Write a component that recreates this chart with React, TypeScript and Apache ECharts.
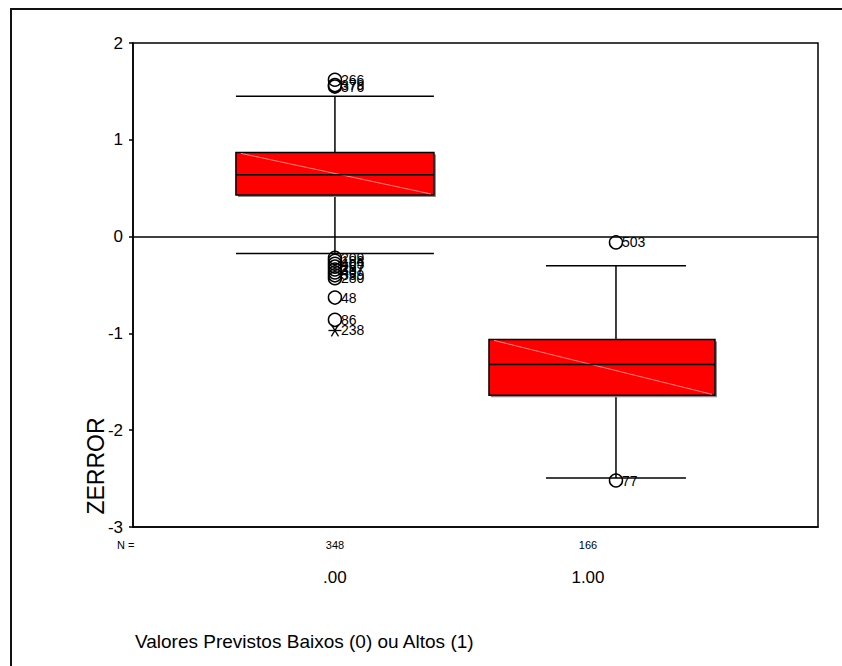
import React, { useEffect, useRef } from "react";
import * as echarts from "echarts";

// ---- data ----
const categories = [".00", "1.00"];
const nCounts = [348, 166];
const whiskerLow = [-0.175, -2.495];
const q1 = [0.43, -1.64];
const medians = [0.64, -1.32];
const q3 = [0.87, -1.062];
const whiskerHigh = [1.45, -0.3];

const outlierGroup = [0, 0, 0, 0, 0, 0, 0, 0, 0, 0, 0, 0, 0, 0, 1, 1];
const outlierValues = [1.62, 1.565, 1.55, -0.22, -0.25, -0.28, -0.31, -0.34, -0.37, -0.4, -0.43, -0.63, -0.86, -0.97, -0.06, -2.52];
const outlierLabels = ["266", "379", "376", "209", "188", "405", "267", "337", "40", "339", "280", "48", "86", "238", "503", "77"];
const extremeLabels = ["238"];

const yTickMin = -3;
const yTickMax = 2;
const yTickStep = 1;

const xTitle = "Valores Previstos Baixos (0) ou Altos (1)";
const yTitle = "ZERROR";
const nPrefix = "N =";

// ---- layout (pixels / axis extent) ----
const X_MIN = -0.798;
const X_MAX = 1.909;
const boxHalf = [99, 113];
const boxShift = [0, 14];
const whiskerShift = [0, 28];
const capHalf = [99, 70];
const FONT = "'Liberation Sans', Arial, sans-serif";

export default function App() {
  const ref = useRef<HTMLDivElement>(null);
  useEffect(() => {
    document.body.style.margin = "0";
    const chart = echarts.init(ref.current!, null, { renderer: "svg" });
    const boxData = categories.map((_, i) => [i, whiskerLow[i], q1[i], medians[i], q3[i], whiskerHigh[i]]);
    const outlierData = outlierValues.map((v, i) => [outlierGroup[i], v]);
    const labelData = categories.map((_, i) => [i, yTickMin]);

    const ln = (x1: number, y1: number, x2: number, y2: number, w = 1.5, c = "#000") => ({
      type: "line",
      shape: { x1, y1, x2, y2 },
      style: { stroke: c, lineWidth: w },
    });

    chart.setOption({
      animation: false,
      grid: { left: 133, right: 24, top: 43, bottom: 139, show: true, borderColor: "#000", borderWidth: 1.5, backgroundColor: "transparent" },
      xAxis: {
        type: "value",
        min: X_MIN,
        max: X_MAX,
        axisLine: { show: true, onZero: false, lineStyle: { color: "#000", width: 1.5 } },
        axisTick: { show: false },
        axisLabel: { show: false },
        splitLine: { show: false },
      },
      yAxis: {
        type: "value",
        min: yTickMin,
        max: yTickMax,
        interval: yTickStep,
        axisLine: { show: true, onZero: false, lineStyle: { color: "#000", width: 1.5 } },
        axisTick: { show: true, length: 4, lineStyle: { color: "#000", width: 1.5 } },
        axisLabel: { color: "#000", fontSize: 17, fontFamily: FONT, margin: 10 },
        splitLine: { show: false },
      },
      graphic: [
        { type: "polyline", shape: { points: [[11, 666], [11, 9], [842, 9]] }, style: { stroke: "#111", lineWidth: 2, fill: null } },
        { type: "text", x: 117, y: 545, style: { text: nPrefix, font: `11px ${FONT}`, fill: "#000", textAlign: "left", textVerticalAlign: "middle" } },
        { type: "text", x: 96, y: 466, rotation: Math.PI / 2, style: { text: yTitle, font: `23px ${FONT}`, fill: "#000", textAlign: "center", textVerticalAlign: "middle" } },
        { type: "text", x: 135, y: 641, style: { text: xTitle, font: `19px ${FONT}`, fill: "#000", textAlign: "left", textVerticalAlign: "middle" } },
      ],
      series: [
        {
          type: "custom",
          name: "box",
          data: boxData,
          encode: { x: 0, y: [1, 2, 3, 4, 5] },
          clip: false,
          renderItem: (params: any, api: any) => {
            const i = api.value(0) as number;
            const cx = api.coord([i, 0])[0];
            const bx = cx + boxShift[i];
            const wx = cx + whiskerShift[i];
            const yLo = api.coord([i, api.value(1)])[1];
            const yQ1 = api.coord([i, api.value(2)])[1];
            const yMed = api.coord([i, api.value(3)])[1];
            const yQ3 = api.coord([i, api.value(4)])[1];
            const yHi = api.coord([i, api.value(5)])[1];
            const h = boxHalf[i];
            const c = capHalf[i];
            return {
              type: "group",
              children: [
                ln(wx, yHi, wx, yQ3),
                ln(wx, yQ1, wx, yLo),
                ln(wx - c, yHi, wx + c, yHi),
                ln(wx - c, yLo, wx + c, yLo),
                { type: "rect", shape: { x: bx - h + 2, y: yQ3 + 2, width: 2 * h, height: yQ1 - yQ3 }, style: { fill: "#8a8a8a" } },
                { type: "rect", shape: { x: bx - h, y: yQ3, width: 2 * h, height: yQ1 - yQ3 }, style: { fill: "#ff0000", stroke: "#000", lineWidth: 1.5 } },
                ln(bx - h + 5, yQ3 + 1, bx + h - 3, yQ1 - 1, 1, "rgba(255,150,150,0.85)"),
                ln(bx - h, yMed, bx + h, yMed),
              ],
            };
          },
          markLine: {
            silent: true,
            symbol: "none",
            label: { show: false },
            lineStyle: { color: "#000", width: 1.5, type: "solid" },
            data: [{ yAxis: 0 }],
          },
          z: 2,
        },
        {
          type: "custom",
          name: "outliers",
          data: outlierData,
          encode: { x: 0, y: 1 },
          clip: false,
          renderItem: (params: any, api: any) => {
            const idx = params.dataIndex;
            const g = api.value(0) as number;
            const p = api.coord([g, api.value(1)]);
            const x = p[0] + whiskerShift[g];
            const y = p[1];
            const lab = outlierLabels[idx];
            const ext = extremeLabels.indexOf(lab) >= 0;
            const r = 6.5;
            const mark = ext
              ? {
                  type: "group",
                  children: [
                    ln(x - r, y, x + r, y, 1.3),
                    ln(x - r * 0.55, y - r * 0.9, x + r * 0.55, y + r * 0.9, 1.3),
                    ln(x - r * 0.55, y + r * 0.9, x + r * 0.55, y - r * 0.9, 1.3),
                  ],
                }
              : { type: "circle", shape: { cx: x, cy: y, r }, style: { fill: "none", stroke: "#000", lineWidth: 1.5 } };
            return {
              type: "group",
              children: [
                mark,
                {
                  type: "text",
                  x: x + 6,
                  y,
                  style: { text: lab, font: `14px ${FONT}`, fill: "#000", align: "left", verticalAlign: "middle" },
                },
              ],
            };
          },
          z: 3,
        },
        {
          type: "custom",
          name: "catLabels",
          data: labelData,
          encode: { x: 0, y: 1 },
          clip: false,
          renderItem: (params: any, api: any) => {
            const i = params.dataIndex;
            const p = api.coord([api.value(0), api.value(1)]);
            return {
              type: "group",
              children: [
                { type: "text", x: p[0], y: p[1] + 18, style: { text: String(nCounts[i]), font: `11px ${FONT}`, fill: "#000", align: "center", verticalAlign: "middle" } },
                { type: "text", x: p[0], y: p[1] + 50, style: { text: categories[i], font: `17px ${FONT}`, fill: "#000", align: "center", verticalAlign: "middle" } },
              ],
            };
          },
        },
      ],
    });
    return () => chart.dispose();
  }, []);
  return <div ref={ref} style={{ width: 842, height: 666, background: "#fff" }} />;
}
